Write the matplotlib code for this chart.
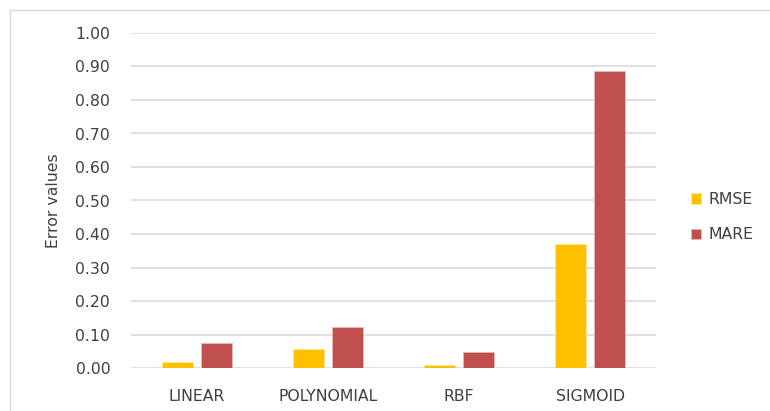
import matplotlib.pyplot as plt
import numpy as np
from matplotlib.patches import Rectangle

categories = ["LINEAR", "POLYNOMIAL", "RBF", "SIGMOID"]
rmse = [0.018, 0.056, 0.008, 0.369]
mare = [0.075, 0.123, 0.047, 0.887]
yticks = [0.0, 0.1, 0.2, 0.3, 0.4, 0.5, 0.6, 0.7, 0.8, 0.9, 1.0]

plt.rcParams['font.family'] = ['DejaVu Sans']
text_color = '#404040'
fs = 11.3

fig = plt.figure(figsize=(7.7, 4.11), dpi=100)
ax = fig.add_axes([131/770, 43/411, 525/770, 335/411])

x = np.arange(len(categories))
w = 0.237
gap = 0.06
ax.bar(x - (w + gap) / 2, rmse, w, color='#FFC000', edgecolor='#FFE699',
       linewidth=0.6, label='RMSE', zorder=3)
ax.bar(x + (w + gap) / 2, mare, w, color='#C0504D', edgecolor='#E6B8B7',
       linewidth=0.6, label='MARE', zorder=3)

ax.set_xlim(-0.5, len(categories) - 0.5)
ax.set_ylim(0, 1.0)
ax.set_yticks(yticks)
ax.set_yticklabels([f"{v:.2f}" for v in yticks])
ax.set_xticks(x)
ax.set_xticklabels(categories)
ax.tick_params(axis='both', length=0, labelsize=fs, colors=text_color)
ax.tick_params(axis='y', pad=15)
ax.tick_params(axis='x', pad=15)
ax.grid(axis='y', color='#D9D9D9', linewidth=1.2, zorder=0)
for s in ax.spines.values():
    s.set_visible(False)
ax.set_ylabel("Error values", fontsize=fs, color=text_color, labelpad=10)

ax.legend(loc='center left', bbox_to_anchor=(1.04, 0.45), frameon=False,
          fontsize=fs, handlelength=0.65, handleheight=0.65,
          labelspacing=1.3, handletextpad=0.45, labelcolor=text_color)

# outer chart-area border
fig.patches.append(Rectangle((10/770, -0.1), 1.2, 1 - 10/411 + 0.1,
                             transform=fig.transFigure, fill=False,
                             edgecolor='#D9D9D9', linewidth=1.0))

fig.savefig("out.png", dpi=100)
